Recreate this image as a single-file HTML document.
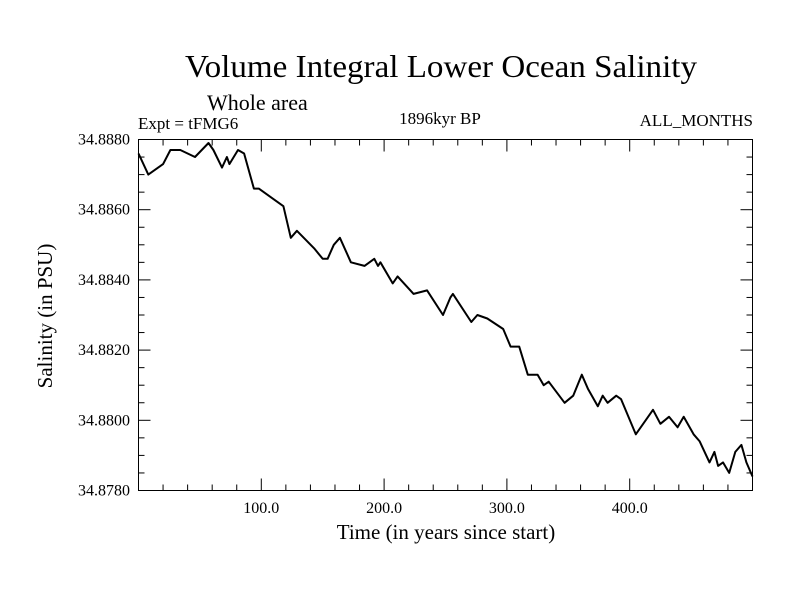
<!DOCTYPE html>
<html><head><meta charset="utf-8"><style>
body{margin:0;background:#fff}
svg{display:block}
text{font-family:"Liberation Serif",serif;fill:#000}
</style></head><body>
<svg id="chart" width="800" height="600" xmlns="http://www.w3.org/2000/svg">
<text x="441" y="77" font-size="32" text-anchor="middle" textLength="512" lengthAdjust="spacingAndGlyphs">Volume Integral Lower Ocean Salinity</text>
<text x="207" y="110" font-size="22">Whole area</text>
<text x="138" y="129" font-size="17">Expt = tFMG6</text>
<text x="440" y="124" font-size="17" text-anchor="middle">1896kyr BP</text>
<text x="753" y="126" font-size="17" text-anchor="end">ALL_MONTHS</text>
<text x="446" y="539" font-size="21" text-anchor="middle">Time (in years since start)</text>
<text transform="translate(52,316) rotate(-90)" font-size="21" text-anchor="middle">Salinity (in PSU)</text>
<g id="axes"></g>
<path id="line" fill="none" stroke="#000" stroke-width="2" stroke-linejoin="round"/>
<rect x="138.5" y="139.5" width="614" height="351" fill="none" stroke="#000" stroke-width="1"/>
</svg>
<script>
const years=[0,8,20,26,34,46,57,61,68,72,74,81,86,94,98,110,118,124,129,143,150,154,159,164,173,184,192,195,197,207,211,224,235,248,254,256,271,276,284,297,303,310,317,325,330,334,347,354,361,366,374,378,382,389,393,405,415,419,425,432,439,444,452,457,465,469,472,476,481,486,491,495,500];
const salinity=[34.8876,34.8870,34.8873,34.8877,34.8877,34.8875,34.8879,34.8877,34.8872,34.8875,34.8873,34.8877,34.8876,34.8866,34.8866,34.8863,34.8861,34.8852,34.8854,34.8849,34.8846,34.8846,34.8850,34.8852,34.8845,34.8844,34.8846,34.8844,34.8845,34.8839,34.8841,34.8836,34.8837,34.8830,34.8835,34.8836,34.8828,34.8830,34.8829,34.8826,34.8821,34.8821,34.8813,34.8813,34.8810,34.8811,34.8805,34.8807,34.8813,34.8809,34.8804,34.8807,34.8805,34.8807,34.8806,34.8796,34.8801,34.8803,34.8799,34.8801,34.8798,34.8801,34.8796,34.8794,34.8788,34.8791,34.8787,34.8788,34.8785,34.8791,34.8793,34.8788,34.8784];
const xTickLabels=["100.0","200.0","300.0","400.0"];
const xTickValues=[100,200,300,400];
const yTickLabels=["34.8780","34.8800","34.8820","34.8840","34.8860","34.8880"];
const yTickValues=[34.878,34.880,34.882,34.884,34.886,34.888];
const X0=138.5,X1=752.5,Y0=490.5,Y1=139.5,xmin=0,xmax=500,ymin=34.878,ymax=34.888;
function sx(v){return X0+(v-xmin)/(xmax-xmin)*(X1-X0);}
function sy(v){return Y0-(v-ymin)/(ymax-ymin)*(Y0-Y1);}
const NS="http://www.w3.org/2000/svg";
const g=document.getElementById('axes');
function ln(x1,y1,x2,y2,name){const l=document.createElementNS(NS,'line');l.setAttribute('x1',x1);l.setAttribute('y1',y1);l.setAttribute('x2',x2);l.setAttribute('y2',y2);l.setAttribute('stroke','#000');l.setAttribute('stroke-width','1');


g.appendChild(l);}
for(let v=20;v<500;v+=20){const x=sx(v);const L=(v%100===0)?12:6;ln(x,Y0,x,Y0-L,'x-tick');ln(x,Y1,x,Y1+L,'x-tick');}
for(let i=1;i<20;i++){const v=ymin+i*0.0005;const y=sy(v);const L=(i%4===0)?12:6;ln(X0,y,X0+L,y,'y-tick');ln(X1,y,X1-L,y,'y-tick');}
xTickLabels.forEach((s,i)=>{const t=document.createElementNS(NS,'text');t.setAttribute('x',sx(xTickValues[i]));t.setAttribute('y',513);t.setAttribute('font-size','16');t.setAttribute('text-anchor','middle');t.textContent=s;


g.appendChild(t);});
yTickLabels.forEach((s,i)=>{const t=document.createElementNS(NS,'text');t.setAttribute('x',130);t.setAttribute('y',sy(yTickValues[i])+5);t.setAttribute('font-size','16');t.setAttribute('text-anchor','end');t.textContent=s;


g.appendChild(t);});
document.getElementById('line').setAttribute('d',years.map((yr,i)=>(i?'L':'M')+sx(yr).toFixed(1)+','+sy(salinity[i]).toFixed(1)).join(''));
</script>
</body></html>
